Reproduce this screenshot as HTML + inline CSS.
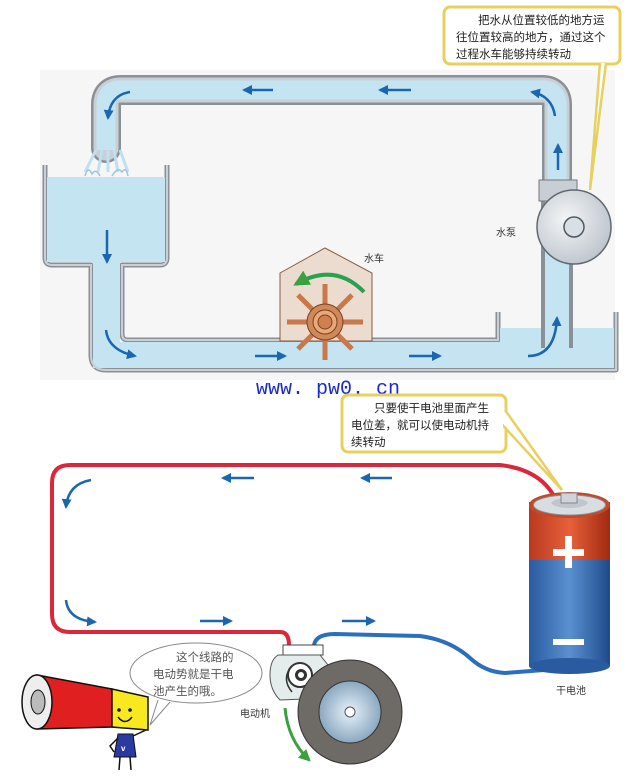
<!DOCTYPE html>
<html><head><meta charset="utf-8"><style>
html,body{margin:0;padding:0;background:#fff;}
svg{display:block;}
text{font-family:"Liberation Sans","Noto Sans CJK SC",sans-serif;}
text.url{font-family:"Liberation Mono",monospace;}
</style></head><body>
<svg width="640" height="777" viewBox="0 0 640 777" xmlns="http://www.w3.org/2000/svg">
<defs>
<marker id="ab" viewBox="0 0 10 10" refX="8" refY="5" markerWidth="4" markerHeight="4" orient="auto"><path d="M0,0 L10,5 L0,10 z" fill="#1a66b0"/></marker>
<marker id="ag" viewBox="0 0 10 10" refX="8" refY="5" markerWidth="4" markerHeight="4" orient="auto"><path d="M0,0 L10,5 L0,10 z" fill="#3aa040"/></marker>
<radialGradient id="pump" cx="0.4" cy="0.4" r="0.7"><stop offset="0" stop-color="#f4f6f8"/><stop offset="1" stop-color="#b8c0c8"/></radialGradient>
<radialGradient id="disk" cx="0.5" cy="0.5" r="0.5"><stop offset="0" stop-color="#e8f2fa"/><stop offset="1" stop-color="#8aa8c0"/></radialGradient>
<linearGradient id="bred" x1="0" x2="1"><stop offset="0" stop-color="#b83a20"/><stop offset="0.5" stop-color="#e8603a"/><stop offset="1" stop-color="#a02a10"/></linearGradient>
<linearGradient id="bblue" x1="0" x2="1"><stop offset="0" stop-color="#2a5aa0"/><stop offset="0.5" stop-color="#5a90d0"/><stop offset="1" stop-color="#1f4a8a"/></linearGradient>
</defs>

<rect x="40" y="70" width="575" height="310" fill="#f6f6f6"/>

<path d="M106,148 L106,105 Q106,90 121,90 L542,90 Q557,90 557,105 L557,348" fill="none" stroke="#8a9096" stroke-width="30" stroke-linecap="round"/>
<path d="M106,148 L106,105 Q106,90 121,90 L542,90 Q557,90 557,105 L557,348" fill="none" stroke="#c8d0d6" stroke-width="25" stroke-linecap="round"/>
<path d="M106,150 L106,105 Q106,90 121,90 L542,90 Q557,90 557,105 L557,350" fill="none" stroke="#c4e4f2" stroke-width="19"/>

<path d="M45,165 L45,258 Q45,265 52,265 L91,265 L91,355 Q91,370 106,370 L616,370 L616,312" fill="none" stroke="#8a9096" stroke-width="5" stroke-linejoin="round"/>
<path d="M167,165 L167,258 Q167,265 160,265 L122,265 L122,334 Q122,340 128,340 L498,340 L498,312" fill="none" stroke="#8a9096" stroke-width="5" stroke-linejoin="round"/>
<path d="M47,177 L165,177 L165,262 L120,262 L120,342 L500,342 L500,328 L614,328 L614,368 L93,368 L93,262 L47,262 z" fill="#c4e4f2"/>
<path d="M45,165 L45,258 Q45,265 52,265 L91,265 L91,355 Q91,370 106,370 L616,370 L616,312" fill="none" stroke="#c8d0d6" stroke-width="2"/>
<path d="M167,165 L167,258 Q167,265 160,265 L122,265 L122,334 Q122,340 128,340 L498,340 L498,312" fill="none" stroke="#c8d0d6" stroke-width="2"/>
<path d="M96,150 L85,172 M102,150 L98,172 M108,150 L108,172 M114,150 L118,172 M120,150 L128,172" stroke="#bfe0f0" stroke-width="3"/>
<path d="M85,176 Q88,165 92,174 Q96,168 100,176 M112,176 Q118,166 122,172 Q126,166 128,176" stroke="#9cc6dc" fill="none" stroke-width="1.5"/>
<rect x="541" y="182" width="32" height="166" fill="#c4e4f2"/>
<line x1="543" y1="180" x2="543" y2="348" stroke="#8a9096" stroke-width="4"/>
<line x1="571" y1="180" x2="571" y2="348" stroke="#8a9096" stroke-width="4"/>

<rect x="539" y="180" width="38" height="21" fill="#c8ced4" stroke="#707880"/>
<ellipse cx="574" cy="227" rx="37" ry="37" fill="url(#pump)" stroke="#606870" stroke-width="1.5"/>
<circle cx="574" cy="227" r="10" fill="#d8e0e6" stroke="#505860" stroke-width="1.5"/>
<text x="496" y="236" font-size="10" fill="#333">水泵</text>

<path d="M280,273 L325,248 L372,273 L372,341 L280,341 z" fill="#ecdcd0" stroke="#8a5a40" stroke-width="1"/>
<path d="M364,292 Q335,262 296,284" fill="none" stroke="#2aa050" stroke-width="4" marker-end="url(#ag)"/>
<g stroke="#c8784a" stroke-width="5" stroke-linecap="butt">
<line x1="287" y1="322" x2="363" y2="322"/>
<line x1="325" y1="284" x2="325" y2="360"/>
<line x1="298" y1="295" x2="352" y2="349"/>
<line x1="352" y1="295" x2="298" y2="349"/>
</g>
<circle cx="325" cy="322" r="18" fill="#d0885a" stroke="#7a4020" stroke-width="1"/>
<circle cx="325" cy="322" r="12" fill="#e8a878" stroke="#7a4020" stroke-width="1"/>
<circle cx="325" cy="322" r="7" fill="#d08050" stroke="#7a4020"/>
<text x="364" y="262" font-size="10" fill="#333">水车</text>

<g stroke="#1a66b0" stroke-width="2.5" fill="none" marker-end="url(#ab)">
<line x1="273" y1="90" x2="244" y2="90"/>
<line x1="411" y1="90" x2="380" y2="90"/>
<line x1="255" y1="356" x2="285" y2="356"/>
<line x1="409" y1="356" x2="440" y2="356"/>
<line x1="107" y1="230" x2="107" y2="262"/>
<line x1="558" y1="170" x2="558" y2="145"/>
<path d="M130,92 Q110,95 108,118"/>
<path d="M555,116 Q552,96 532,92"/>
<path d="M106,330 Q108,350 135,356"/>
<path d="M528,356 Q555,356 557,318"/>
</g>

<rect x="444" y="7" width="176" height="57" rx="6" fill="#fff" stroke="#e8d060" stroke-width="3"/>
<path d="M600,63 L590,190 L606,63" fill="#fff" stroke="#e8d060" stroke-width="2.5"/>
<rect x="447" y="10" width="170" height="51" fill="#fff"/>
<g font-size="11.5" fill="#222">
<text x="478" y="24">把水从位置较低的地方运</text>
<text x="456" y="41">往位置较高的地方，通过这个</text>
<text x="456" y="58">过程水车能够持续转动</text>
</g>

<text class="url" x="256" y="394" font-size="20" fill="#1a2ad0">www. pw0. cn</text>

<path d="M558,505 Q545,470 500,465 L70,465 Q52,465 52,483 L52,614 Q52,632 70,632 L280,632 Q289,632 289,645 L289,650" fill="none" stroke="#d8283a" stroke-width="4"/>
<path d="M314,650 L314,645 Q316,634 335,634 L420,636 Q450,640 470,658 Q485,672 505,673 L570,668" fill="none" stroke="#2a6ec0" stroke-width="4"/>

<g stroke="#1a66b0" stroke-width="2.5" fill="none" marker-end="url(#ab)">
<line x1="254" y1="478" x2="223" y2="478"/>
<line x1="392" y1="478" x2="362" y2="478"/>
<line x1="200" y1="621" x2="231" y2="621"/>
<line x1="342" y1="621" x2="374" y2="621"/>
<path d="M91,480 Q68,484 66,507"/>
<path d="M66,600 Q68,620 95,622"/>
</g>

<rect x="342" y="395" width="164" height="57" rx="6" fill="#fff" stroke="#e8d060" stroke-width="3"/>
<path d="M498,420 L562,490 L505,410" fill="#fff" stroke="#e8d060" stroke-width="2.5"/>
<rect x="345" y="398" width="158" height="51" fill="#fff"/>
<g font-size="11.5" fill="#222">
<text x="374" y="412">只要使干电池里面产生</text>
<text x="351" y="429">电位差，就可以使电动机持</text>
<text x="351" y="446">续转动</text>
</g>

<rect x="529" y="502" width="81" height="58" fill="url(#bred)"/>
<rect x="529" y="560" width="81" height="106" fill="url(#bblue)"/>
<ellipse cx="569.5" cy="666" rx="40.5" ry="8" fill="#2a5aa0"/>
<ellipse cx="569.5" cy="505" rx="40.5" ry="13" fill="#c04a2a"/>
<ellipse cx="569.5" cy="505" rx="36" ry="10" fill="#d8dde2" stroke="#8a9098"/>
<ellipse cx="569.5" cy="503" rx="18" ry="5" fill="#c0c6cc"/>
<rect x="561" y="493" width="16" height="10" fill="#d0d4d8" stroke="#808890"/>
<rect x="565" y="536" width="7" height="32" fill="#fff"/>
<rect x="553" y="549" width="31" height="7" fill="#fff"/>
<rect x="553" y="639" width="31" height="6" fill="#fff"/>
<text x="556" y="694" font-size="10" fill="#333">干电池</text>

<rect x="283" y="645" width="40" height="10" fill="#fff" stroke="#444"/>
<path d="M278,655 L320,655 L332,670 L330,698 L280,700 Q270,690 270,675 Q270,660 278,655 z" fill="#e4ecec" stroke="#555"/>
<circle cx="300" cy="675" r="12" fill="#fff" stroke="#333" stroke-width="2"/>
<circle cx="301" cy="675" r="6" fill="#333"/>
<circle cx="301" cy="675" r="3" fill="#fff"/>
<path d="M290,668 Q282,680 292,692" fill="none" stroke="#333" stroke-width="1.5"/>
<ellipse cx="350" cy="712" rx="52" ry="52" fill="#6e6a66" stroke="#333"/>
<circle cx="350" cy="712" r="31" fill="url(#disk)" stroke="#333"/>
<circle cx="350" cy="712" r="5" fill="#fff" stroke="#555"/>
<path d="M285,708 Q288,740 309,760" fill="none" stroke="#3aa040" stroke-width="3" marker-end="url(#ag)"/>
<text x="240" y="717" font-size="10" fill="#333">电动机</text>

<path d="M158,700 L150,725 L170,702" fill="#fff" stroke="#888"/>
<ellipse cx="196" cy="673" rx="66" ry="30" fill="#fff" stroke="#888"/>
<g font-size="11.5" fill="#555">
<text x="176" y="661">这个线路的</text>
<text x="153" y="678">电动势就是干电</text>
<text x="153" y="695">池产生的哦。</text>
</g>

<path d="M37,675 L112,689 L112,727 L37,729 z" fill="#e02020" stroke="#111" stroke-width="1.5"/>
<path d="M112,689 L148,697 L148,730 L112,727 z" fill="#f8e820" stroke="#111" stroke-width="1.5"/>
<ellipse cx="37" cy="702" rx="15" ry="27" fill="#eee" stroke="#111" stroke-width="1.5"/>
<ellipse cx="38" cy="702" rx="7" ry="12" fill="#bbb" stroke="#111"/>
<circle cx="119" cy="710" r="1.8" fill="#111"/><circle cx="130" cy="710" r="1.8" fill="#111"/>
<path d="M118,717 Q125,726 132,717" fill="none" stroke="#111" stroke-width="1.5"/>
<path d="M118,734 L133,734 L136,757 L114,757 z" fill="#2a3aa0" stroke="#111"/>
<text x="121" y="751" font-size="8" fill="#fff" font-weight="bold">v</text>
<path d="M120,757 L119,770 M130,757 L131,770 M118,738 L110,746 L114,752 M133,736 L146,730" stroke="#111" stroke-width="1.5" fill="none"/>
</svg>
</body></html>
